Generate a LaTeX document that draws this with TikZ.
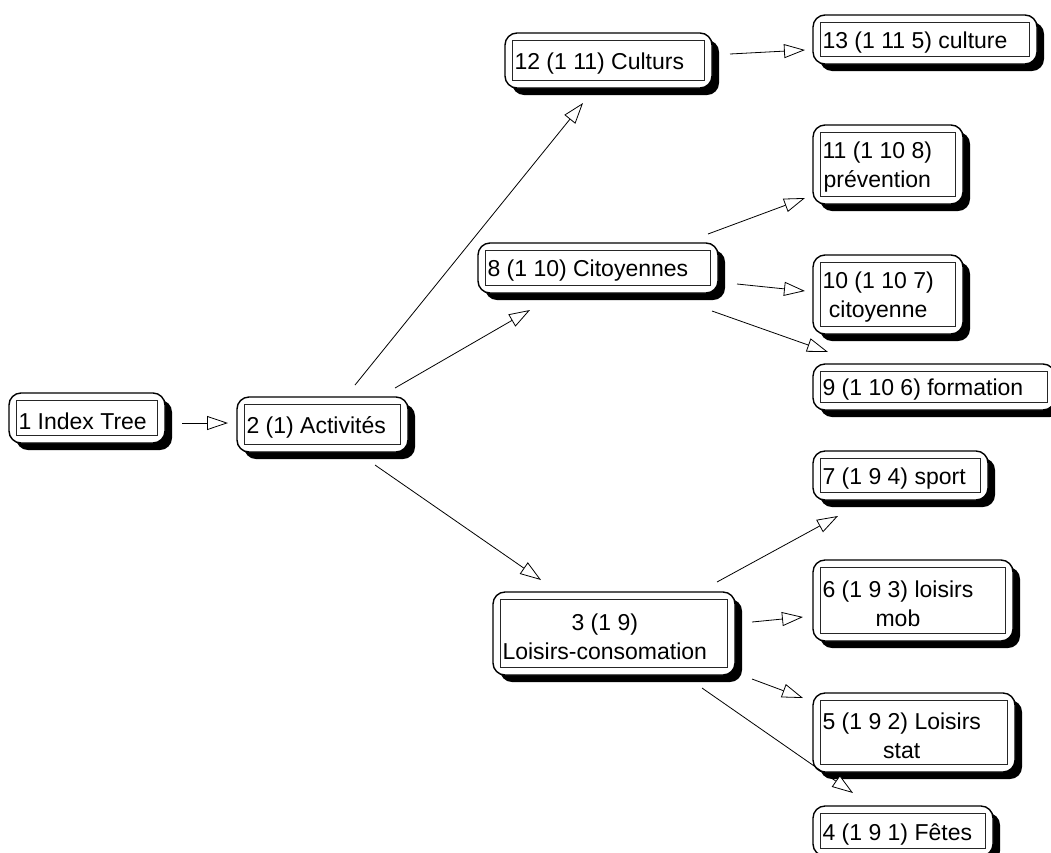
\documentclass[tikz,border=0pt]{standalone}
\usepackage{fontspec}
\setmainfont{Liberation Sans}
\usetikzlibrary{arrows.meta,calc}
\newcommand\treenode[6]{%
  \fill[shadowbox] ({#2-#4/2+7},{#3-#5/2+7}) rectangle ++(#4,#5);
  \node[box, minimum width=#4pt, minimum height=#5pt] (#1) at (#2,#3) {};
  \draw[inbox] ($(#1.north west)+(8,8)$) rectangle ($(#1.south east)+(-8,-8)$);
  \node[txt, anchor=west] (#1t) at ($(#1.west)+(10,3)$) {#6};
}
\begin{document}
\begin{tikzpicture}[x=1pt,y=-1pt,
  box/.style={draw=black, line width=1.4pt, fill=white, rounded corners=12pt, inner sep=0pt},
  shadowbox/.style={fill=black, rounded corners=12pt},
  inbox/.style={draw=black!85, line width=0.9pt},
  txt/.style={inner sep=0pt, align=center, font=\fontsize{23pt}{29pt}\selectfont},
  arr/.style={line width=0.8pt, -{Triangle[length=21pt, width=14pt, fill=white, line width=0.8pt]}}
]
\path[use as bounding box, clip] (0,0) rectangle (1051,852);
\fill[white] (0,0) rectangle (1051,852);

\treenode{n1}{87}{418}{156}{50}{1 Index Tree}
\treenode{n2}{322.5}{424.5}{171}{55}{2 (1) Activités}
\treenode{n12}{608.5}{60.5}{207}{55}{12 (1 11) Culturs}
\treenode{n13}{925}{39.5}{224}{49}{13 (1 11 5) culture}
\treenode{n11}{888}{164.5}{150}{79}{11 (1 10 8)\\prévention}
\treenode{n8}{598}{268}{240}{50}{8 (1 10) Citoyennes}
\treenode{n10}{888}{294.5}{150}{79}{10 (1 10 7)\\citoyenne}
\treenode{n9}{934}{387}{242}{46}{9 (1 10 6) formation}
\treenode{n7}{900.5}{475.5}{175}{49}{7 (1 9 4) sport}
\treenode{n6}{913}{600.5}{200}{81}{6 (1 9 3) loisirs\\mob}
\treenode{n3}{614}{633.5}{242}{83}{3 (1 9)\\Loisirs-consomation}
\treenode{n5}{914}{732.5}{202}{79}{5 (1 9 2) Loisirs\\stat}
\treenode{n4}{903}{831}{180}{50}{4 (1 9 1) Fêtes}

\draw[arr] ($(n1)+(95,5)$) -- ($(n2)+(-94.5,-1.5)$);
\draw[arr] ($(n2)+(32.5,-39.5)$) -- ($(n12)+(-25.5,42.5)$);
\draw[arr] ($(n2)+(72.5,-36.5)$) -- ($(n8)+(-68,42)$);
\draw[arr] ($(n2)+(52.5,40.5)$) -- ($(n3)+(-73,-53.5)$);
\draw[arr] ($(n12)+(121.5,-6.5)$) -- ($(n13)+(-120,10.5)$);
\draw[arr] ($(n8)+(110,-34)$) -- ($(n11)+(-83,33.5)$);
\draw[arr] ($(n8)+(139,16)$) -- ($(n10)+(-83,-3.5)$);
\draw[arr] ($(n8)+(114,43)$) -- ($(n9)+(-106,-35)$);
\draw[arr] ($(n3)+(103,-51.5)$) -- ($(n7)+(-62.5,40.5)$);
\draw[arr] ($(n3)+(138,-11.5)$) -- ($(n6)+(-110,16.5)$);
\draw[arr] ($(n3)+(138,45.5)$) -- ($(n5)+(-111,-34.5)$);
\draw[arr] ($(n3)+(88,54.5)$) -- ($(n4)+(-50,-38)$);
\end{tikzpicture}
\end{document}
